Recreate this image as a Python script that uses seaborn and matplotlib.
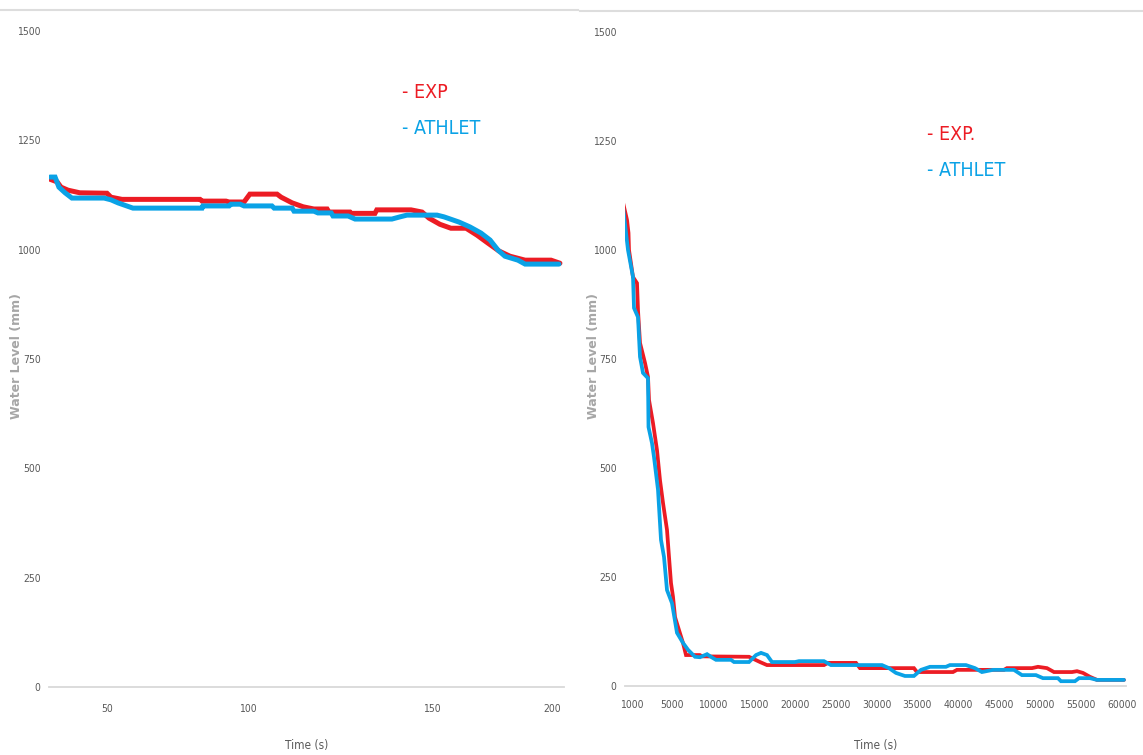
import numpy as np
import pandas as pd
import matplotlib
matplotlib.use("Agg")
import matplotlib.pyplot as plt
import seaborn as sns
from matplotlib import font_manager as fm

# ---------------- data ----------------
# Left panel: short transient (time in s, water level in mm)
L_EXP_T = [30.7, 33.1, 34.4, 36.8, 40.8, 50.0, 51.4, 55.3, 83.0, 83.7, 92.2, 93.3, 98.6,
           100.5, 107.9, 109.0, 112.0, 115.0, 117.9, 121.5, 122.0, 127.7, 128.0, 134.5,
           135.0, 144.3, 147.3, 149.2, 153.3, 157.9, 164.2, 168.8, 173.3, 177.9, 182.5,
           188.8, 199.6, 203.3]
L_EXP_H = [1161, 1155, 1143, 1136, 1130, 1129, 1120, 1115, 1115, 1111, 1111, 1109, 1109,
           1127, 1127, 1120, 1107, 1098, 1093, 1093, 1086, 1086, 1083, 1083,
           1091, 1091, 1086, 1072, 1058, 1049, 1049, 1033, 1015, 997, 985,
           976, 976, 969]
L_ATH_T = [30.7, 32.4, 33.7, 35.8, 38.1, 49.0, 51.4, 53.9, 59.2, 83.7, 84.0, 93.3, 94.0,
           97.2, 98.6, 106.5, 107.1, 112.0, 112.5, 117.9, 119.0, 122.6, 123.1, 127.2,
           129.1, 139.1, 141.3, 143.2, 152.1, 155.0, 161.3, 165.8, 170.4, 174.2, 177.5,
           180.4, 185.8, 188.8, 202.9]
L_ATH_H = [1166, 1166, 1143, 1130, 1118, 1118, 1114, 1107, 1095, 1095, 1100, 1100, 1104,
           1104, 1100, 1100, 1095, 1095, 1088, 1088, 1084, 1084, 1077, 1077,
           1070, 1070, 1075, 1079, 1079, 1075, 1063, 1052, 1038, 1022, 999,
           985, 976, 967, 967]
L_XTICKS = [50, 100, 150, 200]

# Right panel: long transient
R_EXP_T = [0, 500, 650, 700, 1100, 1500, 1600, 1800, 2300, 2600, 2700, 3100, 3500, 3800,
           4100, 4500, 4700, 4900, 5120, 5370, 5860, 6340, 6710, 8400, 8700, 14410, 15750,
           16610, 23580, 24060, 27490, 27970, 34570, 34940, 39340, 39830, 45570, 45940,
           49000, 49730, 50830, 51690, 53890, 54500, 55230, 56090, 56940, 60240]
R_EXP_H = [1119, 1069, 1039, 1000, 938, 924, 862, 787, 741, 709, 656, 603, 541, 472,
           420, 358, 296, 236, 205, 158, 128, 99, 71, 71, 68, 67, 55,
           48, 48, 53, 53, 41, 41, 32, 32, 37, 37, 41,
           41, 44, 41, 32, 32, 34, 30, 21, 14, 14]
R_ATH_T = [0, 600, 1100, 1200, 1600, 1800, 2100, 2600, 2650, 3000, 3200, 3600, 3900, 4200,
           4500, 5000, 5610, 6340, 6960, 7810, 8420, 9280, 10010, 10380, 12210, 12580,
           14410, 15270, 15880, 16610, 17220, 20030, 20520, 23570, 24430, 30660, 31520,
           32370, 33470, 34570, 35430, 36530, 38480, 38970, 40930, 42030, 42880, 44230,
           46790, 47770, 49480, 50340, 52170, 52540, 54250, 54740, 56090, 56940, 60240]
R_ATH_H = [1119, 1000, 938, 867, 846, 755, 718, 706, 594, 557, 525, 450, 335, 296,
           220, 190, 122, 99, 83, 67, 66, 73, 64, 60, 60, 55,
           55, 71, 76, 71, 55, 55, 57, 57, 48, 48, 41,
           30, 23, 23, 37, 44, 44, 48, 48, 41, 32, 37,
           37, 25, 25, 18, 18, 11, 11, 18, 18, 14, 14]
R_XTICKS = [1000, 5000, 10000, 15000, 20000, 25000, 30000, 35000, 40000, 45000,
            50000, 55000, 60000]
Y_TICKS = [0, 250, 500, 750, 1000, 1250, 1500]

LEFT_LEGEND = ["- EXP", "- ATHLET"]
RIGHT_LEGEND = ["- EXP.", "- ATHLET"]

RED = "#EC1C24"
BLUE = "#0AA2E6"

# ---------------- style ----------------
sns.set_style("white")
names = {f.name for f in fm.fontManager.ttflist}
NARROW_FAMILY = ["Liberation Sans Narrow"] if "Liberation Sans Narrow" in names else ["DejaVu Sans"]
plt.rcParams["font.family"] = NARROW_FAMILY + ["DejaVu Sans"]
plt.rcParams["font.stretch"] = "condensed"

W, H = 1143, 755
fig = plt.figure(figsize=(W / 100, H / 100), dpi=100)


def make_funcs(ts, ps):
    ts = np.asarray(ts, float)
    ps = np.asarray(ps, float)

    def fwd(x):
        return np.interp(np.asarray(x, float), ts, ps)

    def inv(p):
        return np.interp(np.asarray(p, float), ps, ts)

    return fwd, inv


def px_axes(x0, x1, y_top, y_bot):
    return fig.add_axes([x0 / W, 1 - y_bot / H, (x1 - x0) / W, (y_bot - y_top) / H])


def style_axes(ax, xticks, xpad):
    for s in ["left", "top", "right"]:
        ax.spines[s].set_visible(False)
    ax.spines["bottom"].set_color("#D9D9D9")
    ax.spines["bottom"].set_linewidth(1.3)
    ax.set_ylim(0, 1500)
    ax.set_yticks(Y_TICKS)
    ax.set_yticklabels([str(v) for v in Y_TICKS])
    ax.set_xticks(xticks)
    ax.set_xticklabels([str(v) for v in xticks])
    ax.tick_params(axis="both", length=0, labelsize=7.5, labelcolor="#595959")
    ax.tick_params(axis="y", pad=6)
    ax.tick_params(axis="x", pad=xpad)
    ax.grid(False)
    ax.set_ylabel("Water Level (mm)", fontsize=9, fontweight="bold", color="#A6A6A6",
                  family=["DejaVu Sans"], fontstretch="normal")
    ax.yaxis.set_label_coords(-0.05, 0.505)
    ax.set_xlabel("Time (s)", fontsize=8.5, color="#595959")
    ax.xaxis.label.set_va("center")


def draw(ax, t_exp, h_exp, t_ath, h_ath, lw):
    d_exp = pd.DataFrame({"Time (s)": t_exp, "Water Level (mm)": h_exp})
    d_ath = pd.DataFrame({"Time (s)": t_ath, "Water Level (mm)": h_ath})
    sns.lineplot(data=d_exp, x="Time (s)", y="Water Level (mm)", ax=ax, color=RED,
                 linewidth=lw, sort=False, estimator=None, solid_joinstyle="miter")
    sns.lineplot(data=d_ath, x="Time (s)", y="Water Level (mm)", ax=ax, color=BLUE,
                 linewidth=lw, sort=False, estimator=None, solid_joinstyle="miter")


# ---- left panel ----
axL = px_axes(49, 564, 31, 687)
fL, iL = make_funcs([-1000, 30, 50, 100, 150, 200, 1000],
                    [48 - 1030 * 2.95, 48, 107, 248, 432, 552, 552 + 800 * 2.4])
axL.set_xscale("function", functions=(fL, iL))
draw(axL, L_EXP_T, L_EXP_H, L_ATH_T, L_ATH_H, 3.6)
axL.set_xlim(float(iL(49)), float(iL(564)))
style_axes(axL, L_XTICKS, 12)
axL.xaxis.set_label_coords(0.5, (687 - 745) / 656)

# ---- right panel ----
axR = px_axes(625, 1126, 32, 686)
fR, iR = make_funcs([-100000, 0, 5000, 60000, 200000],
                    [622 - 100000 * 0.01, 622, 672, 1122, 1122 + 140000 * 450 / 55000])
axR.set_xscale("function", functions=(fR, iR))
draw(axR, R_EXP_T, R_EXP_H, R_ATH_T, R_ATH_H, 2.7)
axR.set_xlim(float(iR(625)), float(iR(1126)))
style_axes(axR, R_XTICKS, 10)
axR.xaxis.set_label_coords(0.5, (686 - 745) / 654)

# ---- text "legends" ----
for (x, y, txt, col) in [(402, 92, LEFT_LEGEND[0], RED), (402, 129, LEFT_LEGEND[1], BLUE),
                         (927, 135, RIGHT_LEGEND[0], RED), (927, 171, RIGHT_LEGEND[1], BLUE)]:
    fig.text(x / W, 1 - y / H, txt, color=col, fontsize=14, ha="left", va="center")


# ---- faint rulers at the top edge ----
def top_rule(x0, x1, y, tick0, step):
    a = fig.add_axes([x0 / W, 1 - y / H, (x1 - x0) / W, 0.0005])
    a.set_xlim(x0, x1)
    a.set_ylim(0, 1)
    for s in ["left", "top", "right"]:
        a.spines[s].set_visible(False)
    a.spines["bottom"].set_color("#DDDDDD")
    a.spines["bottom"].set_linewidth(1.5)
    a.set_xticks(np.arange(tick0, x1, step))
    a.set_yticks([])
    a.tick_params(axis="x", direction="in", length=3.5, width=0.8, color="#DDDDDD",
                  labelbottom=False)
    a.patch.set_alpha(0)


top_rule(0, 578, 10, 35, 43.2)
top_rule(580, 1143, 11, 611, 42.0)

fig.savefig("out.png", dpi=100)
